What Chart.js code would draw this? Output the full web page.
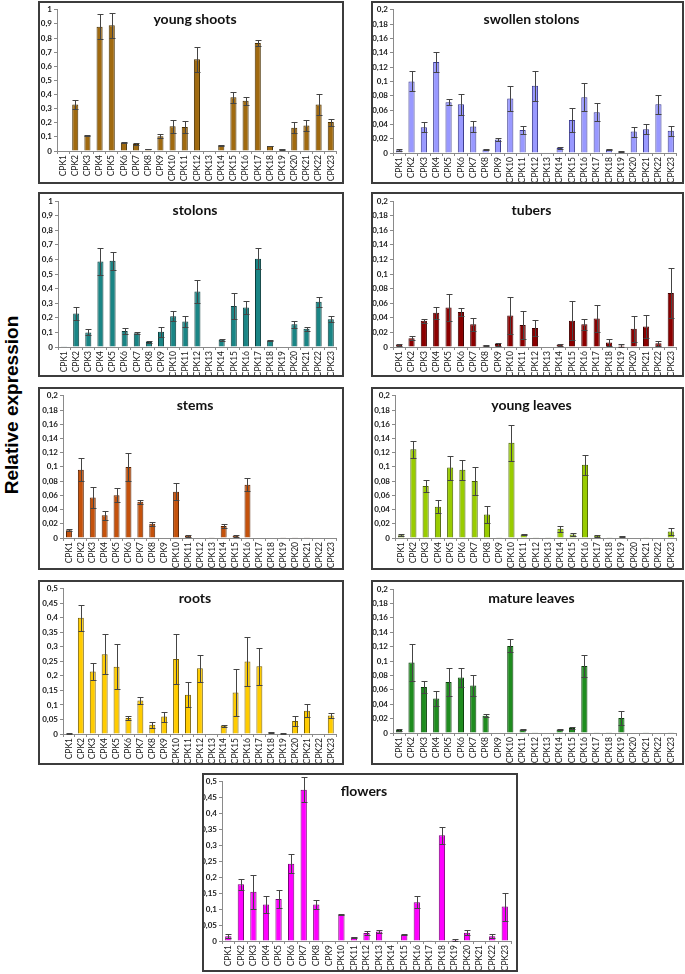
<!DOCTYPE html>
<html lang="en">
<head>
<meta charset="UTF-8">
<title>CPK relative expression</title>
<script src="https://cdn.jsdelivr.net/npm/chart.js"></script>
<style>
  body { margin: 0; background: #fff; width: 685px; height: 974px; position: relative; overflow: hidden; }
  .painel { position: absolute; box-sizing: border-box; border: 2px solid #3c3c3c; background: #fff; }
  .painel canvas { position: absolute; left: 0; top: 0; }
  .titulo { position: absolute; font: bold 14px Lato, sans-serif; color: #111; white-space: nowrap; transform: translate(-50%, -50%); }
  #eixoY { position: absolute; left: 12px; top: 405px; font: bold 19px "Liberation Sans", Arial, sans-serif; color: #000;
           white-space: nowrap; transform: translate(-50%, -50%) rotate(-90deg); }
</style>
</head>
<body>

<div id="eixoY">Relative expression</div>

<script>
const genes = ['CPK1','CPK2','CPK3','CPK4','CPK5','CPK6','CPK7','CPK8','CPK9','CPK10','CPK11','CPK12',
               'CPK13','CPK14','CPK15','CPK16','CPK17','CPK18','CPK19','CPK20','CPK21','CPK22','CPK23'];

// valores medios e erros
const youngShoots    = [0, 0.33, 0.11, 0.88, 0.89, 0.06, 0.05, 0.015, 0.105, 0.175, 0.17, 0.65, 0, 0.04, 0.38, 0.355, 0.765, 0.035, 0.012, 0.165, 0.18, 0.33, 0.205];
const youngShootsErr = [0, 0.03, 0.003, 0.09, 0.09, 0.005, 0.01, 0.002, 0.015, 0.045, 0.04, 0.09, 0, 0.005, 0.04, 0.03, 0.02, 0.003, 0.003, 0.04, 0.04, 0.075, 0.025];

const swollen    = [0.004, 0.1, 0.036, 0.127, 0.071, 0.068, 0.037, 0.005, 0.019, 0.076, 0.032, 0.094, 0, 0.007, 0.046, 0.078, 0.057, 0.005, 0.002, 0.03, 0.033, 0.068, 0.031];
const swollenErr = [0.001, 0.014, 0.007, 0.014, 0.004, 0.015, 0.007, 0.001, 0.002, 0.017, 0.006, 0.021, 0, 0.001, 0.017, 0.02, 0.013, 0.001, 0.001, 0.007, 0.007, 0.013, 0.007];

const stolons    = [0.005, 0.23, 0.1, 0.585, 0.59, 0.11, 0.095, 0.035, 0.105, 0.21, 0.175, 0.38, 0, 0.05, 0.28, 0.27, 0.605, 0.045, 0.003, 0.155, 0.125, 0.31, 0.19];
const stolonsErr = [0, 0.045, 0.02, 0.095, 0.06, 0.02, 0.007, 0.007, 0.035, 0.035, 0.04, 0.08, 0, 0.007, 0.09, 0.045, 0.07, 0.002, 0, 0.025, 0.012, 0.035, 0.02];

const tubers    = [0.003, 0.012, 0.036, 0.047, 0.054, 0.048, 0.031, 0.002, 0.004, 0.043, 0.03, 0.026, 0, 0.003, 0.036, 0.031, 0.039, 0.006, 0.002, 0.025, 0.028, 0.005, 0.074];
const tubersErr = [0.001, 0.003, 0.003, 0.008, 0.018, 0.006, 0.009, 0.001, 0.002, 0.025, 0.019, 0.011, 0, 0.001, 0.027, 0.008, 0.019, 0.005, 0.002, 0.018, 0.016, 0.003, 0.034];

const stems    = [0.011, 0.096, 0.057, 0.032, 0.06, 0.1, 0.051, 0.02, 0, 0.065, 0.003, 0, 0.0005, 0.017, 0.003, 0.075, 0, 0, 0.001, 0.001, 0.0005, 0, 0];
const stemsErr = [0.001, 0.016, 0.015, 0.006, 0.01, 0.02, 0.003, 0.003, 0, 0.012, 0.001, 0, 0, 0.003, 0.001, 0.009, 0, 0, 0, 0, 0, 0, 0];

const youngLeaves    = [0.004, 0.125, 0.073, 0.044, 0.099, 0.096, 0.08, 0.033, 0.0005, 0.134, 0.005, 0.0005, 0.0005, 0.013, 0.005, 0.103, 0.003, 0.0005, 0.002, 0, 0.0005, 0, 0.009];
const youngLeavesErr = [0.001, 0.012, 0.009, 0.009, 0.017, 0.014, 0.02, 0.012, 0, 0.025, 0.001, 0, 0, 0.004, 0.002, 0.014, 0.001, 0, 0.001, 0, 0, 0, 0.005];

const roots    = [0.002, 0.4, 0.215, 0.275, 0.232, 0.055, 0.115, 0.032, 0.06, 0.258, 0.135, 0.226, 0, 0.028, 0.143, 0.25, 0.233, 0.006, 0.002, 0.045, 0.08, 0, 0.064];
const rootsErr = [0.001, 0.045, 0.03, 0.068, 0.077, 0.007, 0.013, 0.01, 0.017, 0.086, 0.043, 0.046, 0, 0.004, 0.08, 0.083, 0.064, 0.002, 0.001, 0.017, 0.023, 0, 0.008];

const matureLeaves    = [0.004, 0.098, 0.064, 0.048, 0.071, 0.077, 0.066, 0.024, 0, 0.121, 0.005, 0.0005, 0, 0.005, 0.007, 0.093, 0.0005, 0.0005, 0.021, 0, 0.0005, 0, 0.0005];
const matureLeavesErr = [0.001, 0.026, 0.008, 0.01, 0.019, 0.013, 0.015, 0.002, 0, 0.009, 0.001, 0, 0, 0.001, 0.001, 0.015, 0, 0, 0.01, 0, 0, 0, 0];

const flowers    = [0.015, 0.178, 0.155, 0.115, 0.132, 0.243, 0.475, 0.115, 0, 0.083, 0.012, 0.025, 0.03, 0, 0.02, 0.122, 0.002, 0.332, 0.003, 0.026, 0, 0.015, 0.108];
const flowersErr = [0.007, 0.018, 0.053, 0.027, 0.027, 0.03, 0.04, 0.015, 0, 0.002, 0.002, 0.006, 0.004, 0, 0.002, 0.018, 0, 0.026, 0.004, 0.007, 0, 0.007, 0.044];

// escalas do eixo y
const maxPadrao = 0.2, passoPadrao = 0.02;
const maxAlto = 1, passoAlto = 0.1;
const maxMedio = 0.5, passoMedio = 0.05;

// caixa do painel e posicao da area do grafico (px da pagina)
const paineis = [
  { titulo: 'young shoots',    dados: youngShoots,  erros: youngShootsErr,  max: maxAlto,   passo: passoAlto,   cor: '#A06A10', borda: '#4a3000', caixa: [38, 1, 306, 183],   eixo: 57,  topo: 9,   zero: 151 },
  { titulo: 'swollen stolons', dados: swollen,      erros: swollenErr,      max: maxPadrao, passo: passoPadrao, cor: '#9999FF', borda: '#3b3b8f', caixa: [371, 1, 313, 183],  eixo: 393, topo: 9,   zero: 153 },
  { titulo: 'stolons',         dados: stolons,      erros: stolonsErr,      max: maxAlto,   passo: passoAlto,   cor: '#1A8585', borda: '#0b3d3d', caixa: [38, 192, 306, 185], eixo: 58,  topo: 201, zero: 347 },
  { titulo: 'tubers',          dados: tubers,       erros: tubersErr,       max: maxPadrao, passo: passoPadrao, cor: '#8B0000', borda: '#400000', caixa: [371, 192, 313, 185], eixo: 393, topo: 201, zero: 347 },
  { titulo: 'stems',           dados: stems,        erros: stemsErr,        max: maxPadrao, passo: passoPadrao, cor: '#C4520C', borda: '#5a2200', caixa: [38, 387, 306, 183], eixo: 63,  topo: 394, zero: 538 },
  { titulo: 'young leaves',    dados: youngLeaves,  erros: youngLeavesErr,  max: maxPadrao, passo: passoPadrao, cor: '#99CC00', borda: '#4a6400', caixa: [371, 387, 313, 183], eixo: 395, topo: 394, zero: 538 },
  { titulo: 'roots',           dados: roots,        erros: rootsErr,        max: maxMedio,  passo: passoMedio,  cor: '#FFCC00', borda: '#7a6000', caixa: [38, 580, 306, 185], eixo: 63,  topo: 588, zero: 734 },
  { titulo: 'mature leaves',   dados: matureLeaves, erros: matureLeavesErr, max: maxPadrao, passo: passoPadrao, cor: '#1F8C1F', borda: '#0a400a', caixa: [371, 580, 313, 185], eixo: 393, topo: 589, zero: 733 },
  { titulo: 'flowers',         dados: flowers,      erros: flowersErr,      max: maxMedio,  passo: passoMedio,  cor: '#FF00FF', borda: '#7a007a', caixa: [202, 773, 316, 199], eixo: 222, topo: 781, zero: 941 }
];

const barrasErro = {
  id: 'barrasErro',
  afterDatasetsDraw(chart, args, opts) {
    const erros = opts.erros;
    if (!erros) return;
    const meta = chart.getDatasetMeta(0);
    const y = chart.scales.y;
    const valores = chart.data.datasets[0].data;
    const ctx = chart.ctx;
    ctx.save();
    ctx.lineWidth = 1;
    ctx.strokeStyle = '#444';
    meta.data.forEach(function (barra, i) {
      const e = erros[i];
      if (!e) return;
      const v = valores[i];
      const x = Math.round(barra.x) + 0.5;
      const yTopo = Math.round(y.getPixelForValue(v + e)) + 0.5;
      const yBase = Math.round(y.getPixelForValue(Math.max(0, v - e))) + 0.5;
      ctx.beginPath();
      ctx.moveTo(x, yTopo); ctx.lineTo(x, yBase);
      ctx.moveTo(x - 3, yTopo); ctx.lineTo(x + 3, yTopo);
      ctx.moveTo(x - 3, yBase); ctx.lineTo(x + 3, yBase);
      ctx.stroke();
    });
    ctx.restore();
  }
};

function virgula(v) {
  return String(+v.toFixed(3)).replace('.', ',');
}

paineis.forEach(function (p) {
  const [bx, by, bw, bh] = p.caixa;
  const largura = bw - 4, altura = bh - 4;

  const div = document.createElement('div');
  div.className = 'painel';
  div.style.left = bx + 'px';
  div.style.top = by + 'px';
  div.style.width = bw + 'px';
  div.style.height = bh + 'px';
  document.body.appendChild(div);

  const canvas = document.createElement('canvas');
  canvas.width = largura;
  canvas.height = altura;
  canvas.style.width = largura + 'px';
  canvas.style.height = altura + 'px';
  div.appendChild(canvas);

  const t = document.createElement('div');
  t.className = 'titulo';
  t.textContent = p.titulo;
  t.style.left = (bw / 2 + 2) + 'px';
  t.style.top = '15px';
  div.appendChild(t);

  const larguraY = p.eixo - (bx + 2);
  const alturaX = altura - (p.zero - (by + 2));

  new Chart(canvas, {
    type: 'bar',
    data: {
      labels: genes,
      datasets: [{
        data: p.dados,
        backgroundColor: p.cor,
        borderColor: p.borda,
        borderWidth: 1,
        barPercentage: 0.5,
        categoryPercentage: 1
      }]
    },
    options: {
      responsive: false,
      animation: false,
      events: [],
      layout: { padding: { top: p.topo - (by + 2), right: 1, left: 0, bottom: 0 } },
      plugins: {
        legend: { display: false },
        tooltip: { enabled: false },
        barrasErro: { erros: p.erros }
      },
      scales: {
        x: {
          afterFit: function (s) { s.height = alturaX; },
          grid: { drawOnChartArea: false, drawTicks: true, tickLength: 3, color: '#8a8a8a', offset: true },
          border: { color: '#8a8a8a' },
          ticks: {
            autoSkip: false, minRotation: 90, maxRotation: 90, padding: 1,
            color: '#1a1a1a', font: { family: 'Lato', size: 8.5 }
          }
        },
        y: {
          min: 0, max: p.max,
          afterFit: function (s) { s.width = larguraY; },
          grid: { drawOnChartArea: false, drawTicks: true, tickLength: 3, color: '#8a8a8a' },
          border: { color: '#8a8a8a' },
          ticks: {
            stepSize: p.passo, padding: 2,
            color: '#1a1a1a', font: { family: 'Lato', size: 8, weight: 'bold' },
            callback: function (v) { return virgula(v); }
          }
        }
      }
    },
    plugins: [barrasErro]
  });
});
</script>
</body>
</html>
